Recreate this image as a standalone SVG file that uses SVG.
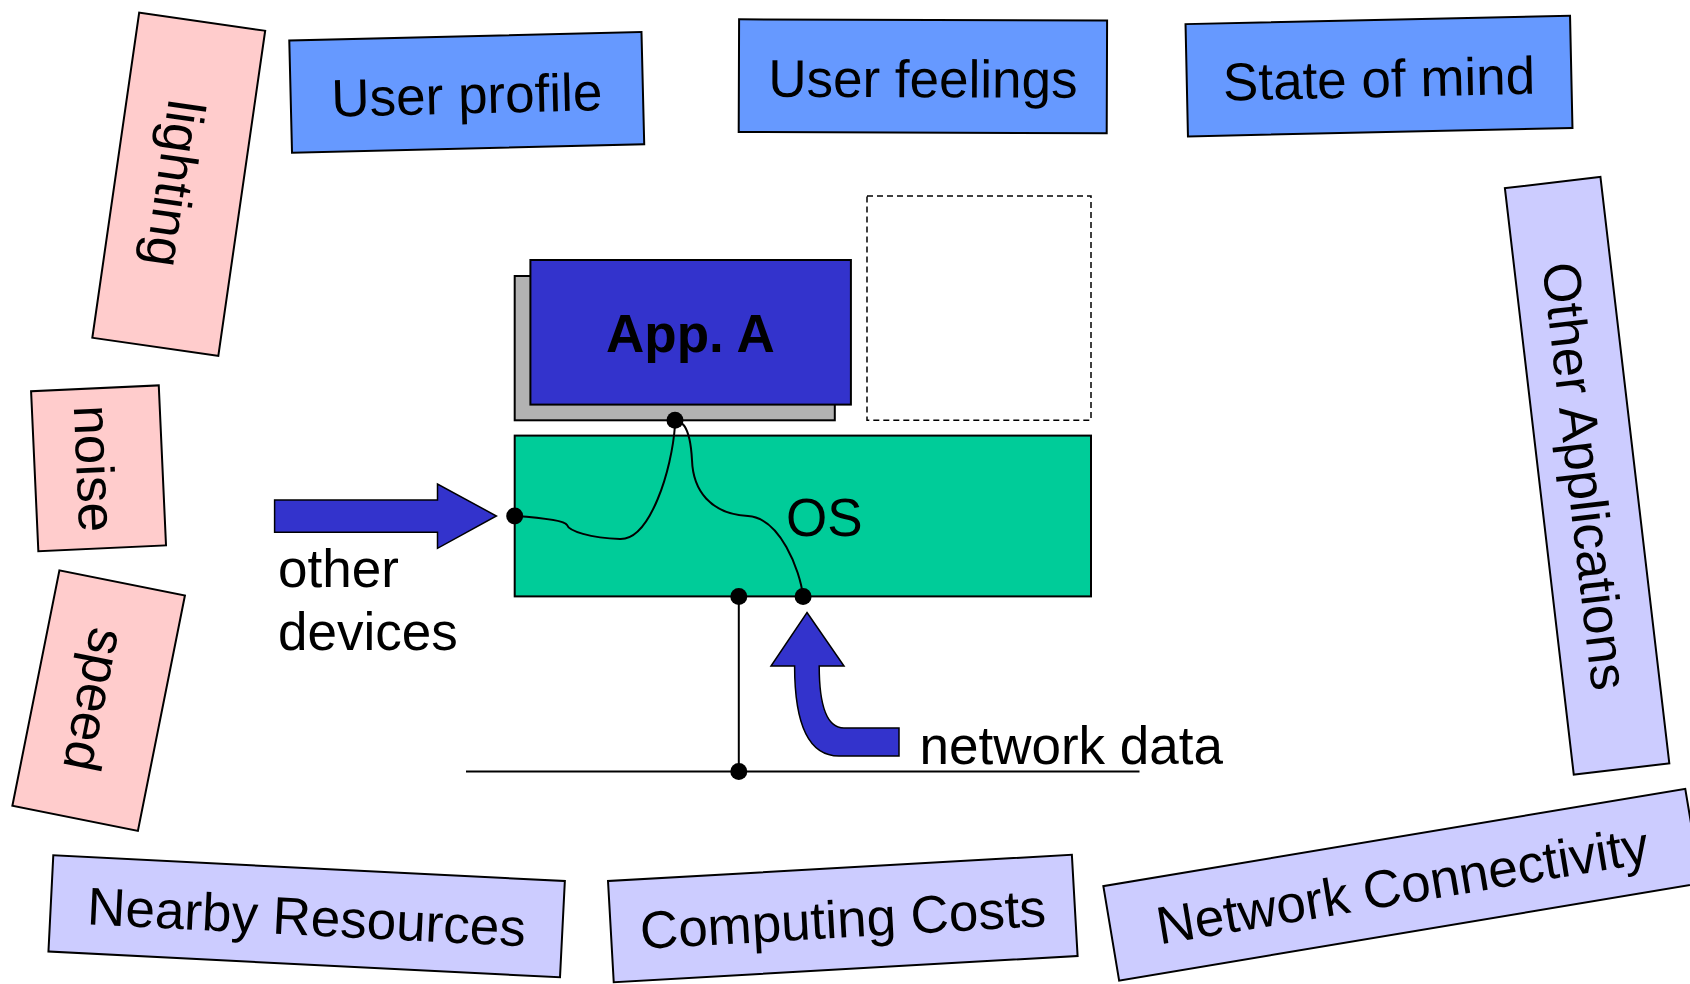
<svg xmlns="http://www.w3.org/2000/svg" width="1690" height="984" viewBox="0 0 1690 984">
<style>
text{font-family:"Liberation Sans",Arial,sans-serif;font-size:53px;fill:#000}
.c{text-anchor:middle}
.box{stroke:#000;stroke-width:2}
.pink{fill:#FFCCCC}
.lblue{fill:#6699FF}
.lav{fill:#CCCCFF}
.wire{fill:none;stroke:#000;stroke-width:2}
.dot{fill:#000}
.arrow{fill:#3333CC;stroke:#000;stroke-width:1.5}
</style>
<rect width="1690" height="984" fill="#fff"/>

<g id="lighting" transform="translate(178.75,184.25) rotate(8.2)">
<rect class="box pink" x="-63.65" y="-164.25" width="127.3" height="328.5"/>
<text class="c" transform="rotate(90)" y="22">lighting</text>
</g>
<g id="noise" transform="translate(98.55,468.3) rotate(-2.6)">
<rect class="box pink" x="-63.9" y="-80.1" width="127.8" height="160.2"/>
<text class="c" transform="rotate(90)" y="22">noise</text>
</g>
<g id="speed" transform="translate(98.65,700.65) rotate(11.3)">
<rect class="box pink" x="-64" y="-120" width="128" height="240"/>
<text class="c" transform="rotate(90)" y="22">speed</text>
</g>

<g id="user-profile" transform="translate(466.75,92.4) rotate(-1.4)">
<rect class="box lblue" x="-176.15" y="-56.15" width="352.3" height="112.3"/>
<text class="c" y="21">User profile</text>
</g>
<g id="user-feelings" transform="translate(922.9,76.3) rotate(0.2)">
<rect class="box lblue" x="-184" y="-56.35" width="368" height="112.7"/>
<text class="c" y="21">User feelings</text>
</g>
<g id="state-of-mind" transform="translate(1379,76.1) rotate(-1.24)">
<rect class="box lblue" x="-192.3" y="-56.15" width="384.6" height="112.3"/>
<text class="c" y="21">State of mind</text>
</g>

<g id="other-applications" transform="translate(1587.1,475.8) rotate(-6.7)">
<rect class="box lav" x="-48.1" y="-295.25" width="96.2" height="590.5"/>
<text class="c" transform="rotate(90)" y="20">Other Applications</text>
</g>
<g id="nearby-resources" transform="translate(306.65,916.3) rotate(2.88)">
<rect class="box lav" x="-256.1" y="-48.2" width="512.2" height="96.4"/>
<text class="c" y="19">Nearby Resources</text>
</g>
<g id="computing-costs" transform="translate(842.8,918.5) rotate(-3.24)">
<rect class="box lav" x="-232.3" y="-50.7" width="464.6" height="101.4"/>
<text class="c" y="19">Computing Costs</text>
</g>
<g id="network-connectivity" transform="translate(1402.2,884.7) rotate(-9.5)">
<rect class="box lav" x="-295" y="-47.85" width="590" height="95.7"/>
<text class="c" y="19">Network Connectivity</text>
</g>

<g id="placeholder">
<rect x="867" y="196" width="224" height="224.3" fill="none" stroke="#000" stroke-width="1.5" stroke-dasharray="6,4"/>
</g>
<g id="app-a">
<rect x="514.7" y="276" width="320.1" height="144.3" fill="#B2B2B2" stroke="#000" stroke-width="2"/>
<rect x="530.4" y="260" width="320.5" height="144.6" fill="#3333CC" stroke="#000" stroke-width="2"/>
<text class="c" x="690.5" y="352" font-weight="bold">App. A</text>
</g>
<g id="os">
<rect x="514.7" y="435.6" width="576.3" height="160.8" fill="#00CC99" stroke="#000" stroke-width="2"/>
<text x="786" y="536">OS</text>
</g>

<g id="other-devices">
<polygon class="arrow" points="274.6,500 437.5,500 437.5,484 496.4,516 437.5,548.3 437.5,532.3 274.6,532.3"/>
<text x="278" y="586.7">other</text>
<text x="278" y="650">devices</text>
</g>
<g id="network-data">
<path class="arrow" d="M807,612.5 L844,666 L819.2,666 C819.2,705 826,728 844,728 L899,728 L899,756 L839,756 C810,756 794.6,728 794.6,666 L771,666 Z"/>
<text x="919.5" y="763.5">network data</text>
</g>

<g id="connectors">
<path class="wire" d="M515,516 C545,518 565,521 567,525 C569,531 590,538 620,539 C650,540 672,470 675,425"/>
<path class="wire" d="M675,425 C680,418 690,424 692,460 C693,490 710,514 748,516 C780,518 800,570 803,596"/>
<line class="wire" x1="738.8" y1="596.4" x2="738.8" y2="771.5"/>
<line class="wire" x1="466" y1="771.5" x2="1139.5" y2="771.5"/>
<circle class="dot" cx="675" cy="420.3" r="8.5"/>
<circle class="dot" cx="514.7" cy="516" r="8.5"/>
<circle class="dot" cx="738.8" cy="596.4" r="8.5"/>
<circle class="dot" cx="803.1" cy="596.4" r="8.5"/>
<circle class="dot" cx="738.8" cy="771.5" r="8.5"/>
</g>
</svg>
